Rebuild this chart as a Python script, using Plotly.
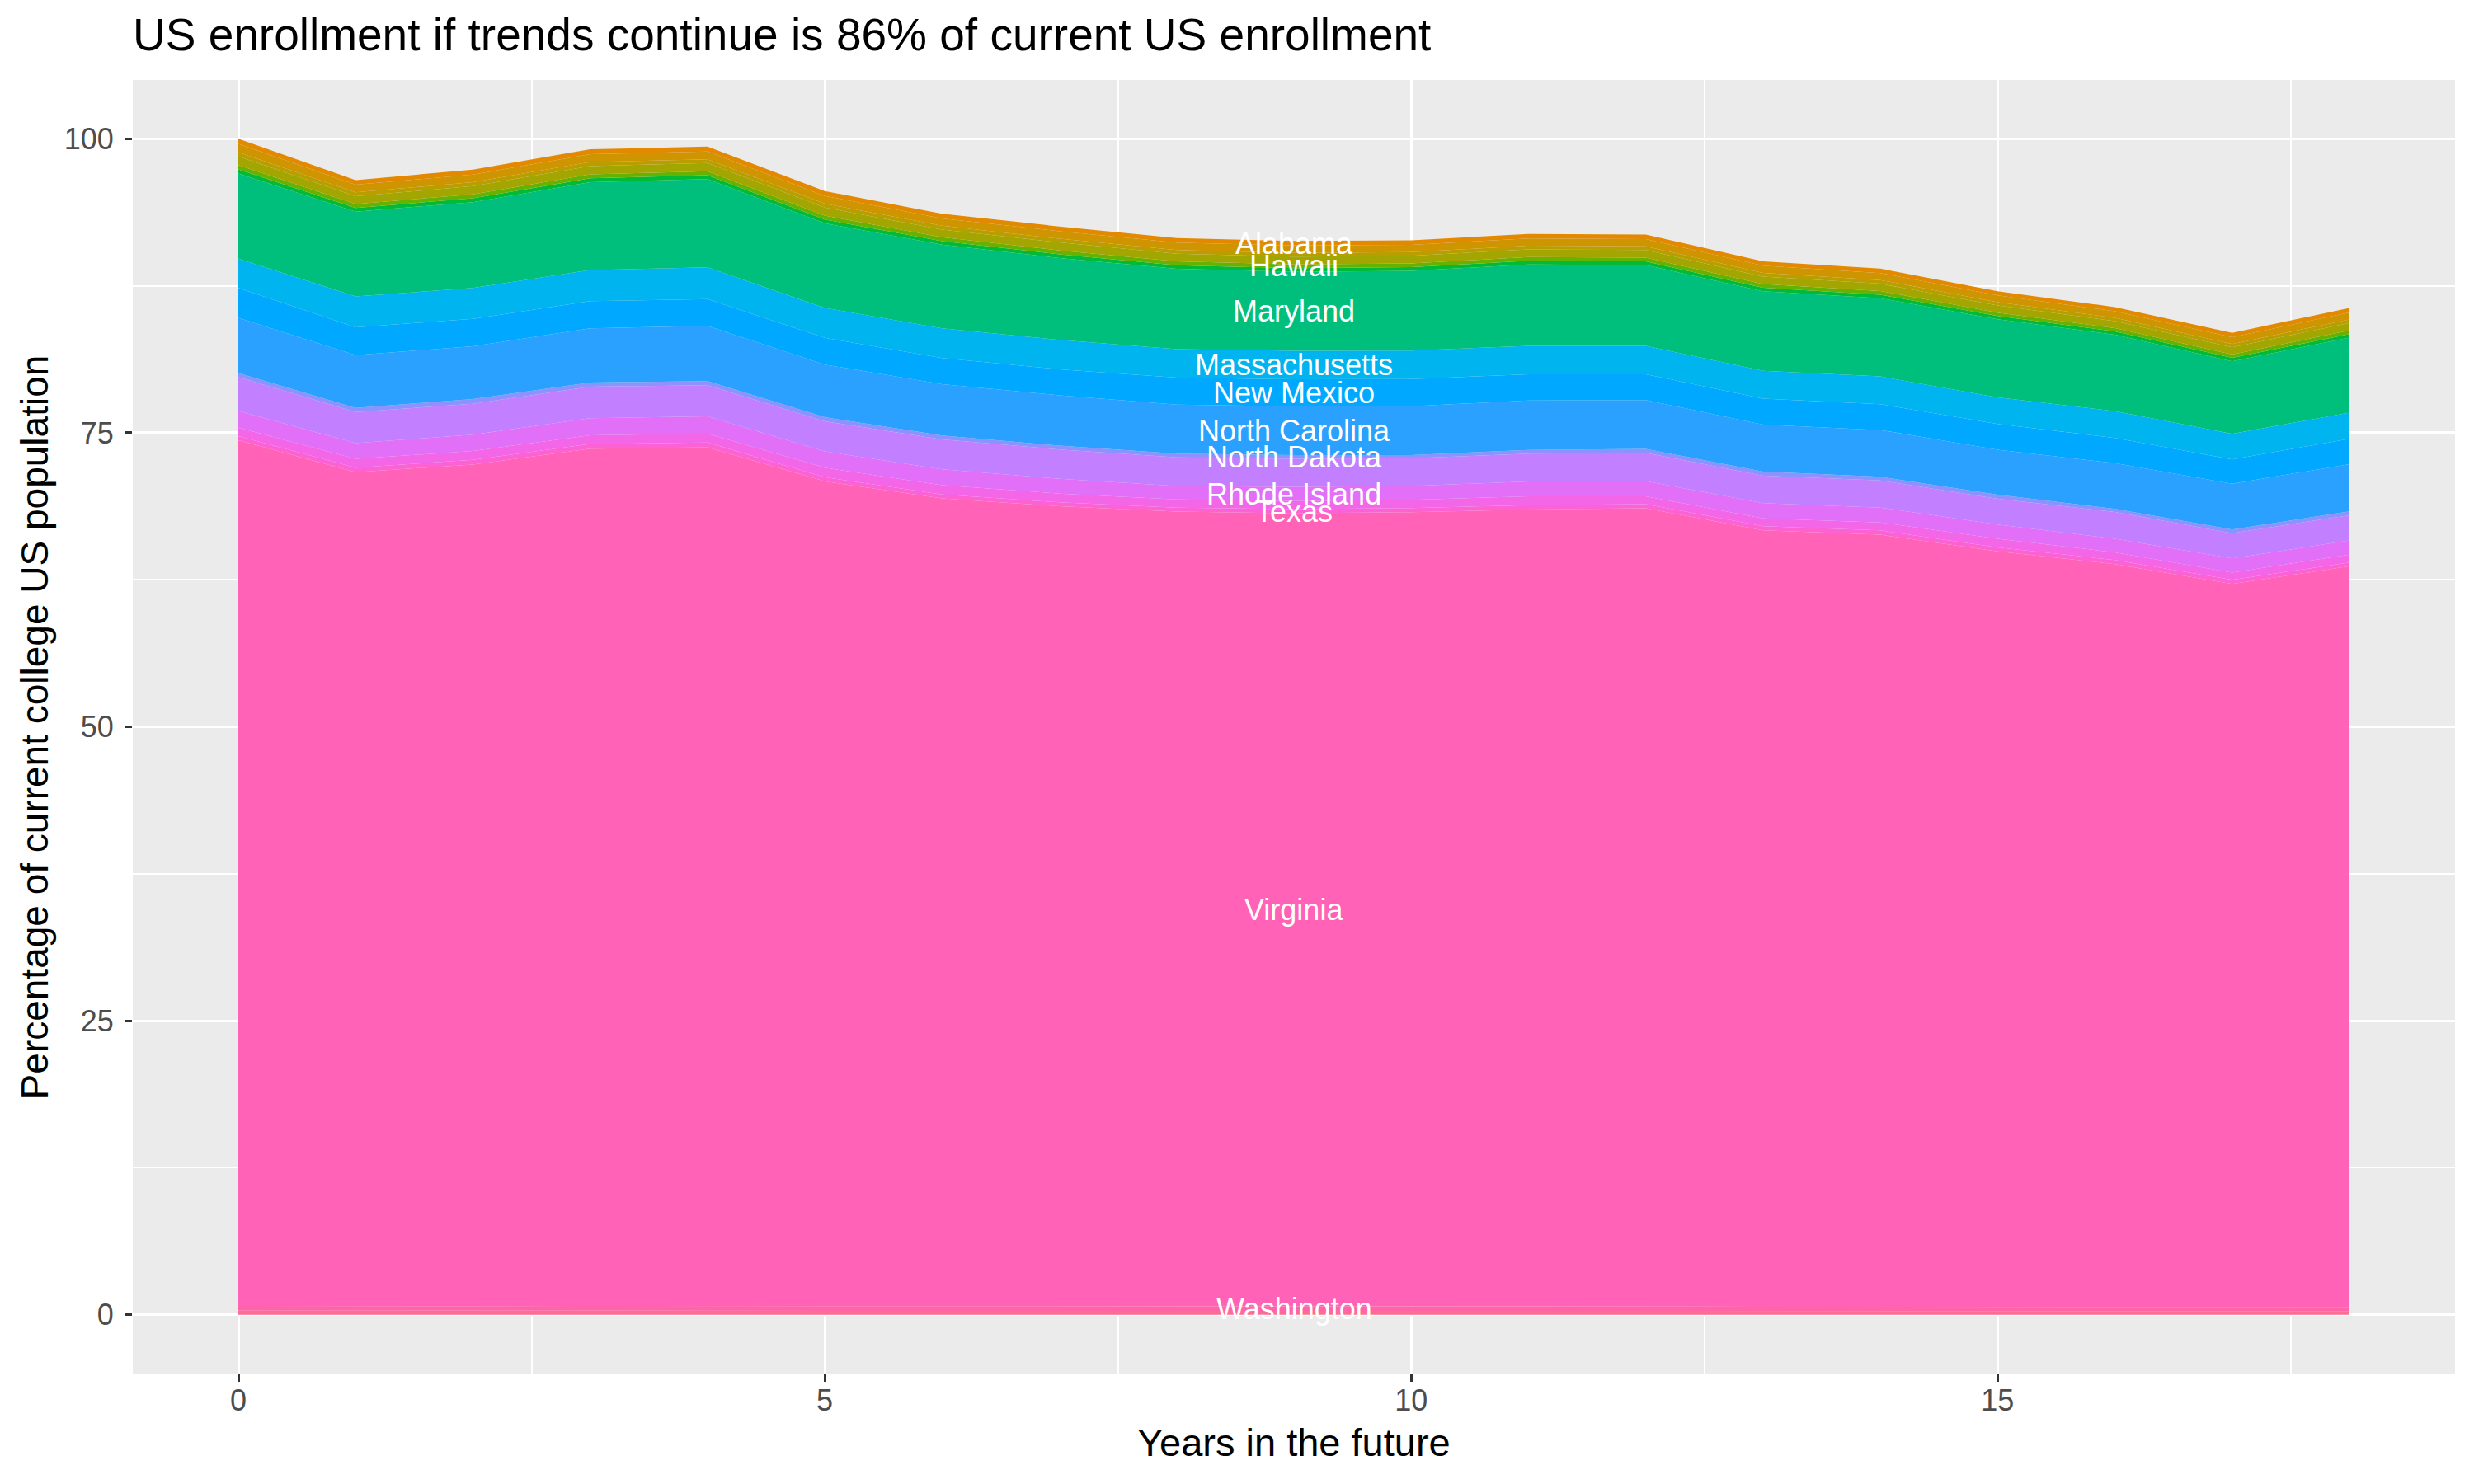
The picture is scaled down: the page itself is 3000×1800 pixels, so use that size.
import plotly.graph_objects as go

years = list(range(19))

# layer thicknesses (percentage points), listed top of stack -> bottom
alabama = [0.44, 0.40, 0.41, 0.42, 0.41, 0.41, 0.39, 0.40, 0.39, 0.39, 0.39, 0.39, 0.39, 0.38, 0.38, 0.36, 0.35, 0.36, 0.38]
arizona = [0.71, 0.65, 0.66, 0.67, 0.66, 0.66, 0.63, 0.64, 0.63, 0.63, 0.62, 0.62, 0.62, 0.61, 0.60, 0.57, 0.57, 0.58, 0.60]
california = [0.35, 0.32, 0.33, 0.34, 0.33, 0.33, 0.32, 0.32, 0.31, 0.31, 0.31, 0.31, 0.31, 0.31, 0.30, 0.29, 0.28, 0.29, 0.30]
florida = [0.74, 0.67, 0.69, 0.70, 0.69, 0.69, 0.66, 0.67, 0.66, 0.66, 0.65, 0.65, 0.65, 0.64, 0.63, 0.60, 0.59, 0.60, 0.63]
hawaii = [0.36, 0.33, 0.34, 0.34, 0.34, 0.33, 0.32, 0.33, 0.32, 0.32, 0.32, 0.32, 0.32, 0.31, 0.31, 0.29, 0.29, 0.29, 0.31]
illinois = [0.35, 0.32, 0.33, 0.34, 0.33, 0.32, 0.31, 0.32, 0.31, 0.31, 0.31, 0.31, 0.31, 0.30, 0.30, 0.28, 0.28, 0.29, 0.30]
maryland = [7.24, 7.21, 7.30, 7.46, 7.51, 7.19, 7.11, 6.97, 6.83, 6.72, 6.79, 6.92, 6.87, 6.76, 6.65, 6.65, 6.49, 6.17, 6.38]
massachusetts = [2.50, 2.63, 2.62, 2.65, 2.69, 2.54, 2.52, 2.50, 2.42, 2.42, 2.42, 2.41, 2.41, 2.36, 2.36, 2.25, 2.28, 2.17, 2.23]
new_mexico = [2.54, 2.36, 2.34, 2.31, 2.28, 2.28, 2.23, 2.20, 2.30, 2.30, 2.30, 2.23, 2.20, 2.22, 2.20, 2.20, 2.15, 2.07, 2.15]
north_carolina = [4.70, 4.48, 4.48, 4.61, 4.69, 4.48, 4.37, 4.29, 4.16, 4.15, 4.16, 4.21, 4.16, 4.00, 3.97, 3.82, 3.88, 3.89, 4.02]
north_dakota = [0.35, 0.35, 0.40, 0.35, 0.35, 0.35, 0.32, 0.32, 0.32, 0.32, 0.27, 0.32, 0.32, 0.35, 0.32, 0.35, 0.27, 0.32, 0.32]
pennsylvania = [2.87, 2.65, 2.63, 2.68, 2.65, 2.55, 2.55, 2.49, 2.44, 2.38, 2.36, 2.36, 2.41, 2.33, 2.31, 2.19, 2.28, 2.14, 2.15]
rhode_island = [1.42, 1.34, 1.39, 1.45, 1.48, 1.39, 1.34, 1.26, 1.13, 1.20, 1.18, 1.26, 1.29, 1.29, 1.26, 1.21, 1.15, 1.21, 1.20]
tennessee = [0.72, 0.75, 0.75, 0.75, 0.75, 0.81, 0.80, 0.75, 0.70, 0.70, 0.69, 0.75, 0.67, 0.67, 0.67, 0.74, 0.65, 0.62, 0.67]
texas = [0.35, 0.38, 0.40, 0.40, 0.40, 0.35, 0.33, 0.33, 0.35, 0.35, 0.35, 0.38, 0.35, 0.35, 0.37, 0.33, 0.35, 0.35, 0.32]
virginia = [73.61, 70.92, 71.57, 72.89, 73.02, 70.15, 68.71, 68.05, 67.59, 67.45, 67.55, 67.77, 67.88, 66.02, 65.65, 64.25, 63.17, 61.50, 62.99]
washington = [0.40, 0.39, 0.39, 0.40, 0.40, 0.38, 0.38, 0.37, 0.37, 0.37, 0.37, 0.37, 0.37, 0.36, 0.36, 0.35, 0.35, 0.34, 0.35]
wyoming = [0.35, 0.34, 0.34, 0.35, 0.35, 0.34, 0.33, 0.33, 0.33, 0.33, 0.33, 0.33, 0.33, 0.32, 0.32, 0.31, 0.31, 0.30, 0.31]

states = ["Alabama", "Arizona", "California", "Florida", "Hawaii", "Illinois",
          "Maryland", "Massachusetts", "New Mexico", "North Carolina", "North Dakota",
          "Pennsylvania", "Rhode Island", "Tennessee", "Texas", "Virginia",
          "Washington", "Wyoming"]
series = [alabama, arizona, california, florida, hawaii, illinois, maryland,
          massachusetts, new_mexico, north_carolina, north_dakota, pennsylvania,
          rhode_island, tennessee, texas, virginia, washington, wyoming]
colors = ["#E38900", "#CE9500", "#B99E00", "#A3A500", "#67B100", "#00BA38",
          "#00BF7D", "#00B4EF", "#00A9FF", "#2BA1FF", "#8C93FF", "#C27FFF",
          "#E16FF8", "#F366E8", "#FC62D3", "#FF62B6", "#FF64A6", "#FF6C91"]
labeled_states = ["Alabama", "Hawaii", "Maryland", "Massachusetts", "New Mexico",
                  "North Carolina", "North Dakota", "Rhode Island", "Texas",
                  "Virginia", "Washington"]

title_text = "US enrollment if trends continue is 86% of current US enrollment"
x_title = "Years in the future"
y_title = "Percentage of current college US population"

FONT = "Liberation Sans, Arial, Helvetica, sans-serif"

fig = go.Figure()
# plotly stacks the first trace at the bottom -> add bottom layer first
for name, vals, col in reversed(list(zip(states, series, colors))):
    fig.add_trace(go.Scatter(
        x=years, y=vals, name=name, mode="lines",
        line=dict(width=0, color=col), fillcolor=col,
        stackgroup="one", showlegend=False,
    ))

# labels at the mean year, centred on each layer
label_x = sum(years) / len(years)
idx = years.index(int(round(label_x)))
base = 0.0
mids = {}
for name, vals in reversed(list(zip(states, series))):
    mids[name] = base + vals[idx] / 2.0
    base += vals[idx]
annotations = []
for name in labeled_states:
    annotations.append(dict(
        x=label_x, y=mids[name], xref="x", yref="y", text=name,
        showarrow=False, xanchor="center", yanchor="middle",
        font=dict(family=FONT, size=36, color="white"),
    ))

annotations.append(dict(
    x=0.5, y=-0.053, xref="paper", yref="paper", text=x_title,
    showarrow=False, xanchor="center", yanchor="middle",
    font=dict(family=FONT, size=47, color="black"),
))
annotations.append(dict(
    x=-0.0423, y=0.5, xref="paper", yref="paper", text=y_title,
    showarrow=False, xanchor="center", yanchor="middle", textangle=-90,
    font=dict(family=FONT, size=46, color="black"),
))

axis_common = dict(
    showline=False, zeroline=False,
    showgrid=True, gridcolor="white", gridwidth=3,
    ticks="outside", ticklen=9, tickwidth=2.5, tickcolor="#333333",
    tickfont=dict(family=FONT, size=36, color="#4D4D4D"),
)

# the page body has an 8px margin, so the figure is drawn 8px in from the corner
W, H, OFF = 2984, 1784, 8

fig.update_layout(
    width=W, height=H, autosize=False,
    paper_bgcolor="white", plot_bgcolor="#EBEBEB",
    margin=dict(l=161 - OFF, r=15, t=97 - OFF, b=126),
    title=dict(text=title_text, x=(161 - OFF) / W, xanchor="left",
               y=1 - (42 - OFF) / H, yanchor="middle",
               font=dict(family=FONT, size=55, color="black")),
    xaxis=dict(range=[-0.9, 18.9], tickmode="array", tickvals=[0, 5, 10, 15],
               ticktext=["0", "5", "10", "15"],
               minor=dict(tickmode="array", tickvals=[2.5, 7.5, 12.5, 17.5],
                          showgrid=True, gridcolor="white", gridwidth=1.5, ticks=""),
               ticklabelstandoff=-8,
               **axis_common),
    yaxis=dict(range=[-5, 105], tickmode="array", tickvals=[0, 25, 50, 75, 100],
               ticktext=["0", "25", "50", "75", "100"],
               minor=dict(tickmode="array", tickvals=[12.5, 37.5, 62.5, 87.5],
                          showgrid=True, gridcolor="white", gridwidth=1.5, ticks=""),
               ticklabelstandoff=6,
               **axis_common),
    annotations=annotations,
)

fig.write_html("out.html")
